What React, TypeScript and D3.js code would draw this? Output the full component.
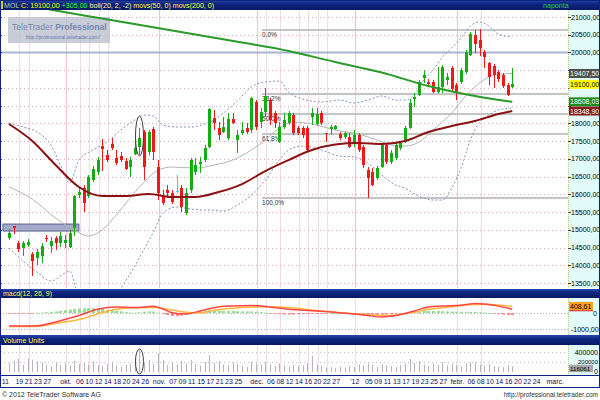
import React from "react";
import * as d3 from "d3";

// ---------- DATA ----------
// [open, high, low, close] per trading day (index 0 = 15 Sep 2011)
const ohlc: number[][] = [
  [14767,15021,14711,14908],[15106,15106,14880,15049],[14626,14683,14373,14457],[14485,14683,14260,14626],
  [14570,14739,14514,14655],[14316,14373,13696,14119],[14203,14457,14006,14373],[14260,14626,14062,14542],
  [14767,14852,14655,14739],[14542,14796,14344,14683],[14767,14824,14429,14626],[14626,14937,14514,14824],
  [14626,14852,14485,14711],[14514,14993,14485,14908],[15049,15980,14824,15952],[15980,16177,15895,16065],
  [16177,16262,15501,15754],[15952,16544,15895,16488],[16403,16798,16347,16713],[16629,17052,16544,16967],
  [17362,17559,16657,17277],[17108,17249,16911,16967],[17418,17587,17249,17305],[17023,17249,16826,16882],
  [17080,17193,16911,16967],[16939,17023,16685,16713],[16770,17052,16488,16967],[17136,17531,17108,17305],
  [17334,17869,17108,17587],[17757,17813,16403,16770],[17193,17813,17108,17757],[17841,17898,16967,17193],
  [16770,16967,15839,16036],[15924,16121,15698,15754],[16121,16262,15952,16036],[16036,16121,15726,15783],
  [16107,16544,16036,16107],[16177,16262,15501,15642],[15472,16177,15416,16036],[16121,17023,16036,16967],
  [16629,17023,16544,16826],[16868,17052,16600,16911],[16967,17390,16911,17305],[17334,18433,17305,18405],
  [18151,18377,17813,18010],[17869,18039,17531,17672],[17757,18180,17728,17898],[17587,18292,17531,18123],
  [18123,18292,17982,18010],[17531,17813,17164,17672],[17728,18039,17672,17813],[17869,18010,17700,17757],
  [17813,18744,17728,18715],[18603,18659,17813,17898],[18039,18433,17869,18321],[18321,18997,18180,18772],
  [18659,18715,17954,18095],[18292,18349,17869,18010],[17475,18039,17446,17898],[17898,18292,17841,18095],
  [18010,18349,17954,18292],[18236,18292,17672,17728],[17869,17926,17672,17728],[17869,17926,17587,17672],
  [17869,17926,17193,17249],[18180,18433,17954,18292],[17982,18433,17926,18264],[18292,18349,17954,18010],
  [17728,17728,17475,17700],[17841,17954,17672,17898],[17841,17954,17813,17926],[17700,17757,17531,17587],
  [17616,17757,17559,17728],[17616,17728,17305,17334],[17446,17813,17334,17672],[17672,17728,17193,17249],
  [17334,17390,16741,16826],[16685,16770,15895,16459],[16629,16741,16234,16262],[16459,16798,16403,16741],
  [16770,17446,16741,17390],[17390,17446,16854,16911],[16911,17249,16854,17164],[17023,17446,16967,17390],
  [17305,17503,17249,17446],[17475,17926,17446,17869],[17869,18687,17841,18574],[18687,18856,18462,18744],
  [18800,19223,18772,19167],[19279,19505,19138,19364],[19167,19251,19054,19110],[19167,19223,18856,18885],
  [18885,19590,18856,19026],[19026,19646,18856,19590],[19223,19420,19082,19308],[19561,19618,18913,18969],
  [19082,19138,18659,18885],[19167,19561,19110,19505],[19449,20069,19392,20013],[19928,20577,19900,20520],
  [20492,20633,19984,20238],[20351,20661,19900,20125],[20013,20069,19561,19872],[19702,19731,19082,19308],
  [19618,19674,18997,19364],[19449,19505,19167,19251],[19364,19420,18997,19054],[19082,19138,18772,18800],
  [19026,19561,18997,19100],
];

const volume: number[] = [
  180000,230000,260000,150000,270000,250000,210000,190000,150000,120000,
  200000,140000,170000,130000,230000,160000,200000,150000,210000,140000,
  120000,160000,200000,130000,110000,150000,170000,260000,430000,190000,
  240000,170000,380000,240000,130000,190000,150000,220000,170000,240000,
  160000,130000,200000,340000,180000,220000,150000,130000,190000,160000,
  120000,100000,210000,170000,140000,200000,160000,120000,170000,130000,
  110000,150000,120000,130000,180000,320000,150000,120000,90000,100000,
  80000,110000,90000,120000,100000,150000,130000,170000,140000,100000,
  160000,130000,120000,100000,140000,170000,260000,180000,220000,150000,
  120000,170000,140000,200000,130000,160000,140000,110000,170000,190000,
  200000,150000,130000,160000,120000,110000,100000,130000,116061,
];

const macdHist: number[] = [
  -50,-50,-45,-40,-30,-15,10,30,50,70,100,130,170,210,250,270,290,300,300,290,
  250,210,170,140,100,60,30,10,40,80,100,90,20,-60,-130,-190,-200,-170,-110,-30,
  40,100,140,170,165,150,140,130,120,110,100,100,100,80,50,20,-10,-40,-70,-90,
  -100,-90,-80,-70,-60,-40,-30,-20,-10,0,5,-10,-20,-30,-40,-50,-60,-70,-90,-100,
  -100,-90,-70,-40,-10,30,70,100,120,135,140,130,120,110,100,90,80,75,70,65,
  60,50,30,0,-40,-70,-100,-120,-140,
];

const macdLine: [number, number][] = [
  [0,-820],[6,-800],[10,-560],[15,-160],[19,230],[23,370],[27,340],[31,420],[33,250],[35,20],
  [38,-60],[41,130],[44,330],[47,430],[52,470],[56,380],[60,240],[65,140],[70,40],[74,-60],
  [77,-160],[80,-250],[83,-160],[87,130],[90,370],[93,430],[97,490],[100,590],[102,570],[105,430],[108,240],
];
const signalLine: [number, number][] = [
  [0,-850],[6,-840],[10,-650],[15,-410],[19,-60],[23,230],[27,330],[31,340],[34,240],[38,40],
  [41,0],[44,170],[49,330],[56,390],[60,340],[65,180],[70,40],[75,-60],[80,-160],[83,-120],
  [87,40],[90,230],[95,390],[100,530],[103,530],[108,409],
];

const ma50: [number, number][] = [
  [0,17982],[5,17503],[10,16826],[15,16206],[20,15952],[25,15952],[30,16008],[35,15924],[40,15924],
  [45,16065],[50,16290],[55,16657],[60,16967],[65,17249],[70,17404],[75,17446],[80,17418],[85,17503],
  [90,17757],[95,17926],[100,18067],[105,18264],[108,18349],
];
const ma200: [number, number][] = [
  [0,21423],[10,21183],[20,20957],[30,20732],[40,20506],[50,20281],[60,20041],[70,19731],
  [80,19435],[90,19054],[100,18772],[108,18608],
];

const bollUpper: [number, number][] = [
  [0,18011],[3,17898],[6,17757],[9,17390],[12,16544],[13,16318],[15,16967],[18,17249],[21,17475],
  [24,17813],[27,18095],[29,18236],[31,18208],[33,17954],[36,17898],[39,17898],[42,17982],[44,18095],
  [46,18292],[49,18631],[52,19026],[55,19167],[58,19195],[60,18885],[63,18687],[67,18603],[71,18659],
  [74,18574],[77,18659],[80,18772],[83,18659],[85,18659],[87,18800],[89,19223],[91,19505],[93,19872],
  [95,20125],[97,20407],[99,20746],[101,20859],[103,20746],[105,20520],[108,20436],
];
const bollMiddle: [number, number][] = [
  [0,16206],[5,15867],[10,15331],[14,14993],[17,14824],[20,14993],[23,15416],[26,15895],[29,16347],
  [32,16685],[35,16770],[40,16741],[44,16826],[48,16967],[52,17249],[55,17531],[58,17869],[61,18039],
  [65,17982],[70,17813],[75,17700],[79,17531],[82,17390],[85,17362],[88,17475],[91,17813],[95,18292],
  [98,18772],[101,19138],[104,19364],[108,19408],
];
const bollLower: [number, number][] = [
  [0,14486],[3,14119],[6,13809],[9,13555],[12,13780],[13,13837],[15,13019],[18,12511],[21,12878],
  [24,13358],[27,13978],[29,14457],[31,14937],[33,15472],[36,15642],[39,15585],[42,15557],[44,15557],
  [46,15529],[49,15698],[52,15980],[55,16403],[58,16967],[60,17249],[63,17362],[67,17249],[71,17080],
  [74,17052],[77,16882],[80,16544],[83,16262],[85,16177],[87,16008],[89,15895],[91,15839],[93,15839],
  [95,16177],[97,16741],[99,17531],[101,18039],[103,18236],[105,18377],[108,18433],
];

const priceTicks = [13500,14000,14500,15000,15500,16000,16500,17000,17500,18000,18500,19000,19500,20000,20500,21000];
const macdTicks = [0, -1000];
const volTicks = [0, 200000, 400000];
const volTickLabels = ["0", "200000", "400000"];

const dateTicks: [number, string][] = [
  [-1,"11"],[2,"19"],[4,"21"],[6,"23"],[8,"27"],[12,"okt."],[15,"06"],[17,"10"],[19,"12"],[21,"14"],
  [23,"18"],[25,"20"],[27,"24"],[29,"26"],[32,"nov."],[35,"07"],[37,"09"],[39,"11"],[41,"15"],[43,"17"],
  [45,"21"],[47,"23"],[49,"25"],[53,"dec."],[56,"06"],[58,"08"],[60,"12"],[62,"14"],[64,"16"],[66,"20"],
  [68,"22"],[70,"27"],[74,"'12"],[77,"05"],[79,"09"],[81,"11"],[83,"13"],[85,"17"],[87,"19"],[89,"23"],
  [91,"25"],[93,"27"],[96,"febr."],[99,"06"],[101,"08"],[103,"10"],[105,"14"],[107,"16"],[109,"20"],
  [111,"22"],[113,"24"],[117,"márc."],
];
const monthIdx = [12, 32, 53, 74, 96];
const weekIdx = [2, 4, 15, 17, 19, 21, 55, 58, 62, 64, 66, 68, 101];

const fibLevels = [0, 38.2, 50, 61.8, 100];
const fibLabels = ["0,0%", "38,2%", "50,0%", "61,8%", "100,0%"];
const fibHigh = 20633;
const fibLow = 15896;
const fibStartIdx = 54.3;
const blueLinePrice = 20000;
const zoneIdx = [-1.3, 15];
const zonePrice = [14965, 15162];
const markIdx = 28;
const markPrice = [17644, 564];
const markVol = [210000, 250000];

const lastValues = [
  { v: 19407.5, t: "19407,50", bg: "#505050", fg: "#ffffff" },
  { v: 19100, t: "19100,00", bg: "#ffff00", fg: "#000000" },
  { v: 18608.03, t: "18608,03", bg: "#1e8a1e", fg: "#ffffff" },
  { v: 18348.9, t: "18348,90", bg: "#8e1a1a", fg: "#ffffff" },
];
const macdLast = { v: 408.61, t: "408,61" };
const volLast = { v: 116061, t: "116061" };

// ---------- LAYOUT ----------
const PR = 568;
const MAIN = [10, 288];
const MACD_H = [289, 298];
const MACD = [298, 335];
const VOL_H = [335, 345];
const VOL = [345, 375];
const XAX = [375, 387];
const FONT = "'Liberation Sans', Arial, sans-serif";
const GREEN = "#12ad12";
const RED = "#f01818";
const CYAN = "#30d8ff";

export default function App() {
  const x = d3.scaleLinear().domain([0, 100]).range([9, 475]);
  const y = d3.scaleLinear().domain([13500, 21000]).range([283, 17]);
  const ym = d3.scaleLinear().domain([-1000, 0]).range([329, 313]);
  const yv = d3.scaleLinear().domain([0, 400000]).range([372, 352]);

  const lineP = d3.line<[number, number]>().x(d => x(d[0])).y(d => y(d[1])).curve(d3.curveMonotoneX);
  const lineM = d3.line<[number, number]>().x(d => x(d[0])).y(d => ym(d[1])).curve(d3.curveMonotoneX);

  const header = (y0: number, y1: number, id: string) => (
    <rect x={0} y={y0} width={600} height={y1 - y0} fill={`url(#${id})`} />
  );

  const xr = (i: number) => Math.round(x(i));
  // tick labels hidden behind the last-value boxes (as in the original)
  const visibleTicks = priceTicks.filter(p => lastValues.every(lv => Math.abs(y(p) - y(lv.v)) > 8.5));

  return (
    <svg width={600} height={400} style={{ position: "absolute", left: 0, top: 0, display: "block" }} fontFamily={FONT}>
      <defs>
        <linearGradient id="hdr" x1="0" y1="0" x2="0" y2="1">
          <stop offset="0" stopColor="#2848a8" />
          <stop offset="0.4" stopColor="#0e2480" />
          <stop offset="1" stopColor="#081a62" />
        </linearGradient>
        <clipPath id="mainClip"><rect x={0} y={MAIN[0]} width={PR} height={MAIN[1] - MAIN[0]} /></clipPath>
        <clipPath id="macdClip"><rect x={0} y={MACD[0]} width={PR} height={MACD[1] - MACD[0]} /></clipPath>
      </defs>
      <rect x={0} y={0} width={600} height={400} fill="#ffffff" />

      {/* ===== MAIN PANEL ===== */}
      <rect x={PR} y={MAIN[0]} width={600 - PR} height={MAIN[1] - MAIN[0]} fill="#e2fbfb" />
      <g clipPath="url(#mainClip)">
        {weekIdx.map(i => (
          <line key={"w" + i} x1={xr(i) + 1.5} x2={xr(i) + 1.5} y1={MAIN[0]} y2={MAIN[1]} stroke="#f3dbe3" strokeWidth={1} />
        ))}
        {monthIdx.map(i => (
          <line key={"m" + i} x1={xr(i) + 1.5} x2={xr(i) + 1.5} y1={MAIN[0]} y2={MAIN[1]} stroke="#ebc4d0" strokeWidth={1} />
        ))}
        {priceTicks.map(p => (
          <line key={"g" + p} x1={0} x2={PR} y1={Math.round(y(p)) + 0.5} y2={Math.round(y(p)) + 0.5}
            stroke="#e3a9b9" strokeWidth={1} strokeDasharray="1,3" />
        ))}
        {/* blue horizontal line */}
        <line x1={0} x2={PR} y1={y(blueLinePrice)} y2={y(blueLinePrice)} stroke="#a8b4d4" strokeWidth={2} />
        {/* fibonacci */}
        {fibLevels.map((f, k) => {
          const p = fibHigh - (fibHigh - fibLow) * f / 100;
          const yy = Math.round(y(p));
          return (
            <g key={"f" + k}>
              <line x1={x(fibStartIdx)} x2={PR} y1={yy} y2={yy} stroke="#c4c4c4" strokeWidth={2} />
              <text x={x(fibStartIdx)} y={yy + 7} fontSize={6.5} fill="#303030">{fibLabels[k]}</text>
            </g>
          );
        })}
        {/* highlighted zone */}
        <rect x={x(zoneIdx[0])} y={y(zonePrice[1])} width={x(zoneIdx[1]) - x(zoneIdx[0])}
          height={y(zonePrice[0]) - y(zonePrice[1])} fill="#a3a9c9" stroke="#5a6290" strokeWidth={1} />
        {/* watermark */}
        <rect x={8} y={17} width={102} height={26} fill="#bcc0cf" opacity={0.8} />
        <text x={12} y={30} fontSize={8.6} fill="#7687b2">
          <tspan>TeleTrader </tspan><tspan fontWeight="bold">Professional</tspan>
        </text>
        <text x={26} y={39} fontSize={5} fill="#6a7aa6">http://professional.teletrader.com/</text>

        {/* bollinger */}
        <path d={lineP(bollUpper) || ""} fill="none" stroke="#8290c4" strokeWidth={1} strokeDasharray="2,2" />
        <path d={lineP(bollLower) || ""} fill="none" stroke="#8290c4" strokeWidth={1} strokeDasharray="2,2" />
        <path d={lineP(bollMiddle) || ""} fill="none" stroke="#b4b4b4" strokeWidth={1} />

        {/* candles */}
        {ohlc.map((d, i) => {
          const [o, h, l, c] = d;
          const col = c > o ? GREEN : c < o ? RED : CYAN;
          const cx = xr(i);
          const top = Math.round(y(Math.max(o, c)));
          const bot = Math.round(y(Math.min(o, c)));
          return (
            <g key={"c" + i}>
              <line x1={cx + 0.5} x2={cx + 0.5} y1={y(h)} y2={y(l)} stroke={col} strokeWidth={1} />
              <rect x={cx - 1} y={top} width={3} height={Math.max(1, bot - top)} fill={col} />
            </g>
          );
        })}

        {/* moving averages */}
        <path d={lineP(ma200) || ""} fill="none" stroke="#2a9a2a" strokeWidth={2} />
        <path d={lineP(ma50) || ""} fill="none" stroke="#8a1212" strokeWidth={2} />

        <ellipse cx={x(markIdx)} cy={y(markPrice[0])} rx={4} ry={y(markPrice[0] - markPrice[1]) - y(markPrice[0])}
          fill="none" stroke="#404040" strokeWidth={1} />
      </g>
      {/* main axis */}
      <line x1={PR + 0.5} x2={PR + 0.5} y1={MAIN[0]} y2={MAIN[1]} stroke="#c8c878" strokeDasharray="1,1" />
      {priceTicks.map(p => (
        <g key={"tk" + p}>
          <line x1={PR} x2={PR + 3} y1={Math.round(y(p)) + 0.5} y2={Math.round(y(p)) + 0.5} stroke="#404040" />
          <line x1={0} x2={2} y1={Math.round(y(p)) + 0.5} y2={Math.round(y(p)) + 0.5} stroke="#404040" />
        </g>
      ))}
      {visibleTicks.map(p => (
        <text key={"t" + p} x={571} y={y(p) + 2.5} fontSize={7} fill="#000">{`${p},00`}</text>
      ))}
      {lastValues.map(lv => (
        <g key={lv.t}>
          <rect x={569} y={y(lv.v) - 4.5} width={30} height={9} fill={lv.bg} />
          <text x={570} y={y(lv.v) + 2.5} fontSize={7} fill={lv.fg}>{lv.t}</text>
        </g>
      ))}
      {header(0, MAIN[0], "hdr")}
      <rect x={1} y={1} width={2} height={8} fill="#c8d020" />
      <text x={4} y={8} fontSize={7.1} fill="#ffff30">
        <tspan fill="#c8c8a8">MOL </tspan>
        <tspan fill="#ffff00">C: 19100,00 </tspan>
        <tspan fill="#30ff30">+305,00 </tspan>
        <tspan fill="#ffffa8">boll(20, 2, -2) </tspan>
        <tspan>movs(50, 0) movs(200, 0)</tspan>
      </text>
      <text x={543} y={8} fontSize={7.1} fill="#20d020">naponta</text>

      {/* ===== MACD PANEL ===== */}
      {header(MACD_H[0], MACD_H[1], "hdr")}
      <text x={3} y={MACD_H[1] - 2} fontSize={7} fill="#ffff40">macd(12, 26, 9)</text>
      <rect x={PR} y={MACD[0]} width={600 - PR} height={MACD[1] - MACD[0]} fill="#e2fbfb" />
      <g clipPath="url(#macdClip)">
        {macdTicks.map(v => (
          <line key={"mg" + v} x1={0} x2={PR} y1={Math.round(ym(v)) + 0.5} y2={Math.round(ym(v)) + 0.5}
            stroke="#b0b0b0" strokeDasharray="1,2" />
        ))}
        {weekIdx.concat(monthIdx).map(i => (
          <line key={"mv" + i} x1={xr(i) + 1.5} x2={xr(i) + 1.5} y1={MACD[0]} y2={MACD[1]} stroke="#f3dbe3" />
        ))}
        {macdHist.map((v, i) => (
          <rect key={"h" + i} x={xr(i) - 1} width={3}
            y={v >= 0 ? ym(v) : ym(0)} height={Math.max(0.8, Math.abs(ym(v) - ym(0)))}
            fill={v >= 0 ? "#8fe08f" : "#ff8a8a"} />
        ))}
        <path d={lineM(signalLine) || ""} fill="none" stroke="#ffb43c" strokeWidth={1.5} />
        <path d={lineM(macdLine) || ""} fill="none" stroke="#ff4646" strokeWidth={1.5} />
      </g>
      <line x1={PR + 0.5} x2={PR + 0.5} y1={MACD[0]} y2={MACD[1]} stroke="#c8c878" strokeDasharray="1,1" />
      <text x={593} y={ym(0) + 3} fontSize={7} fill="#000">0</text>
      <text x={571} y={ym(-1000) + 2.5} fontSize={7} fill="#000">-1000,00</text>
      <rect x={569} y={ym(macdLast.v) - 4.5} width={24} height={8.5} fill="#ffa21e" />
      <line x1={569} x2={593} y1={ym(macdLast.v) + 4.3} y2={ym(macdLast.v) + 4.3} stroke="#e02020" strokeWidth={1} />
      <text x={570} y={ym(macdLast.v) + 2.3} fontSize={7} fill="#000">{macdLast.t}</text>

      {/* ===== VOLUME PANEL ===== */}
      {header(VOL_H[0], VOL_H[1], "hdr")}
      <text x={3} y={VOL_H[1] - 2} fontSize={7} fill="#ffff40">Volume Units</text>
      <rect x={PR} y={VOL[0]} width={600 - PR} height={VOL[1] - VOL[0]} fill="#e2fbfb" />
      {volTicks.slice(1).map(v => (
        <line key={"vg" + v} x1={0} x2={PR} y1={Math.round(yv(v)) + 0.5} y2={Math.round(yv(v)) + 0.5}
          stroke="#c0c0c0" strokeDasharray="1,3" />
      ))}
      {weekIdx.concat(monthIdx).map(i => (
        <line key={"vv" + i} x1={xr(i) + 1.5} x2={xr(i) + 1.5} y1={VOL[0]} y2={VOL[1]} stroke="#f3dbe3" />
      ))}
      {volume.map((v, i) => (
        <line key={"v" + i} x1={xr(i) + 0.5} x2={xr(i) + 0.5} y1={yv(0)} y2={yv(v)} stroke="#b4b4c4" strokeWidth={1} />
      ))}
      <ellipse cx={x(markIdx)} cy={yv(markVol[0])} rx={4} ry={yv(0) - yv(markVol[1])} fill="none" stroke="#404040" strokeWidth={1} />
      <line x1={PR + 0.5} x2={PR + 0.5} y1={VOL[0]} y2={VOL[1]} stroke="#c8c878" strokeDasharray="1,1" />
      {volTicks.map((v, k) => (
        <text key={"vt" + v} x={598} y={yv(v) + (k === 0 ? 2 : k === 1 ? 1.5 : 2.5)} fontSize={k === 1 ? 6 : 7} fill="#000" textAnchor="end">{volTickLabels[k]}</text>
      ))}
      <rect x={569} y={yv(volLast.v) - 1.5} width={24} height={7.5} fill="#a8a8a8" />
      <text x={570} y={yv(volLast.v) + 4.5} fontSize={6.2} fill="#000">{volLast.t}</text>

      {/* ===== X AXIS ===== */}
      <line x1={0} x2={600} y1={XAX[0] + 0.5} y2={XAX[0] + 0.5} stroke="#0e2480" />
      {dateTicks.map(([i, t]) => (
        <text key={"d" + i} x={x(i) + 1} y={XAX[0] + 8.5} fontSize={7} fill="#101060" textAnchor="middle">{t}</text>
      ))}
      <line x1={0} x2={600} y1={XAX[1] + 0.5} y2={XAX[1] + 0.5} stroke="#0e2480" />

      {/* frame */}
      <rect x={0.5} y={0.5} width={599} height={XAX[1]} fill="none" stroke="#0e2480" strokeWidth={1} />

      {/* footer */}
      <text x={2} y={397} fontSize={7} fill="#303030">© 2012 TeleTrader Software AG</text>
      <text x={598} y={397} fontSize={6.5} fill="#303030" textAnchor="end">http://professional.teletrader.com</text>
    </svg>
  );
}
